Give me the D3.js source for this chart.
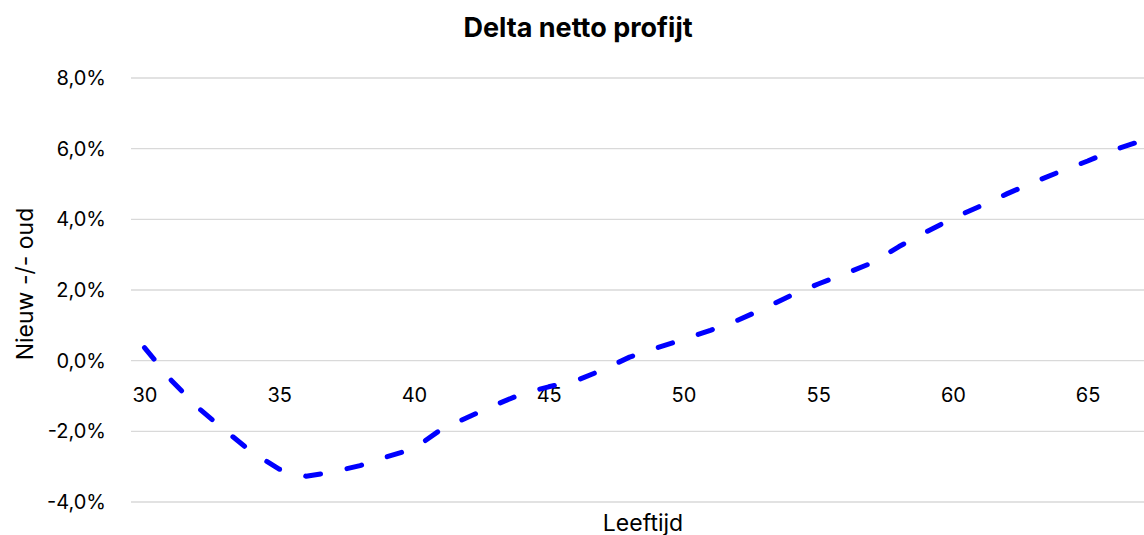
<!DOCTYPE html>
<html>
<head>
<meta charset="utf-8">
<script src="https://cdn.jsdelivr.net/npm/d3@7"></script>
<style>
  body { margin: 0; background: #fff; }
  text { font-family: Inter, Lato, "Noto Sans", sans-serif; fill: #000; }
</style>
</head>
<body>
<div id="chart"></div>
<script>

// leeftijd (age) and delta netto profijt (%)
var ages = [30, 31, 32, 33, 34, 35, 36, 37, 38, 39,
            40, 41, 42, 43, 44, 45, 46, 47, 48, 49,
            50, 51, 52, 53, 54, 55, 56, 57, 58, 59,
            60, 61, 62, 63, 64, 65, 66, 67];
var delta = [0.37, -0.56, -1.34, -1.98, -2.60, -3.07, -3.27, -3.15, -2.97, -2.72,
             -2.49, -1.95, -1.60, -1.26, -0.94, -0.74, -0.57, -0.26, 0.10, 0.36,
             0.60, 0.86, 1.14, 1.48, 1.85, 2.17, 2.46, 2.77, 3.23, 3.64,
             4.03, 4.37, 4.72, 5.05, 5.36, 5.65, 5.97, 6.22];
var yTicks = [-4, -2, 0, 2, 4, 6, 8];
var xTicks = [30, 35, 40, 45, 50, 55, 60, 65];

var chartTitle = "Delta netto profijt",
    xTitle = "Leeftijd",
    yTitle = "Nieuw -/- oud";

var W = 1144, H = 535;
var plot = {left: 131, right: 1155, top: 78, bottom: 502};
var font = "Inter, Lato, 'Noto Sans', sans-serif";

var nl = d3.formatLocale({decimal: ",", thousands: ".", grouping: [3], currency: ["€", ""], minus: "-"});
var pct = nl.format(".1f");

var svg = d3.select("#chart").append("svg")
  .attr("width", W)
  .attr("height", H);

var xScale = d3.scaleLinear()
  .domain([d3.min(ages) - 0.5, d3.max(ages) + 0.5])
  .range([plot.left, plot.right]);

var yScale = d3.scaleLinear()
  .domain([-4, 8])
  .range([plot.bottom, plot.top]);

// gridlines
svg.append("g").selectAll("line")
  .data(yTicks)
  .enter().append("line")
  .attr("x1", plot.left)
  .attr("x2", plot.right)
  .attr("y1", function(d){ return yScale(d); })
  .attr("y2", function(d){ return yScale(d); })
  .attr("stroke", "#d9d9d9")
  .attr("stroke-width", 1.3);

// y axis labels
var yAxis = d3.axisLeft(yScale)
  .tickValues(yTicks)
  .tickSize(0)
  .tickPadding(0)
  .tickFormat(function(d){ return pct(d) + "%"; });

svg.append("g")
  .attr("class", "y axis")
  .attr("transform", "translate(106,0)")
  .call(yAxis)
  .call(function(g){ g.select(".domain").remove(); })
  .selectAll("text")
  .attr("font-size", 20)
  .attr("font-family", font)
  .attr("fill", "#000");

// x axis labels, sitting under the zero line
var xAxis = d3.axisBottom(xScale)
  .tickValues(xTicks)
  .tickSize(0)
  .tickPadding(27)
  .tickFormat(d3.format("d"));

svg.append("g")
  .attr("class", "x axis")
  .attr("transform", "translate(0," + yScale(0) + ")")
  .call(xAxis)
  .call(function(g){ g.select(".domain").remove(); })
  .selectAll("text")
  .attr("font-size", 20)
  .attr("font-family", font)
  .attr("fill", "#000");

// the line
var line = d3.line()
  .x(function(d, i){ return xScale(ages[i]); })
  .y(function(d){ return yScale(d); });

svg.append("path")
  .datum(delta)
  .attr("d", line)
  .attr("fill", "none")
  .attr("stroke", "#0000ff")
  .attr("stroke-width", 5)
  .attr("stroke-linecap", "round")
  .attr("stroke-linejoin", "round")
  .attr("stroke-dasharray", "15,27");

// titles
svg.append("text")
  .attr("x", 578)
  .attr("y", 37)
  .attr("text-anchor", "middle")
  .attr("font-size", 27)
  .attr("font-weight", "bold")
  .text(chartTitle);

svg.append("text")
  .attr("x", 643)
  .attr("y", 531)
  .attr("text-anchor", "middle")
  .attr("font-size", 23)
  .text(xTitle);

svg.append("text")
  .attr("transform", "translate(33,284) rotate(-90)")
  .attr("text-anchor", "middle")
  .attr("font-size", 23)
  .text(yTitle);

</script>
</body>
</html>
